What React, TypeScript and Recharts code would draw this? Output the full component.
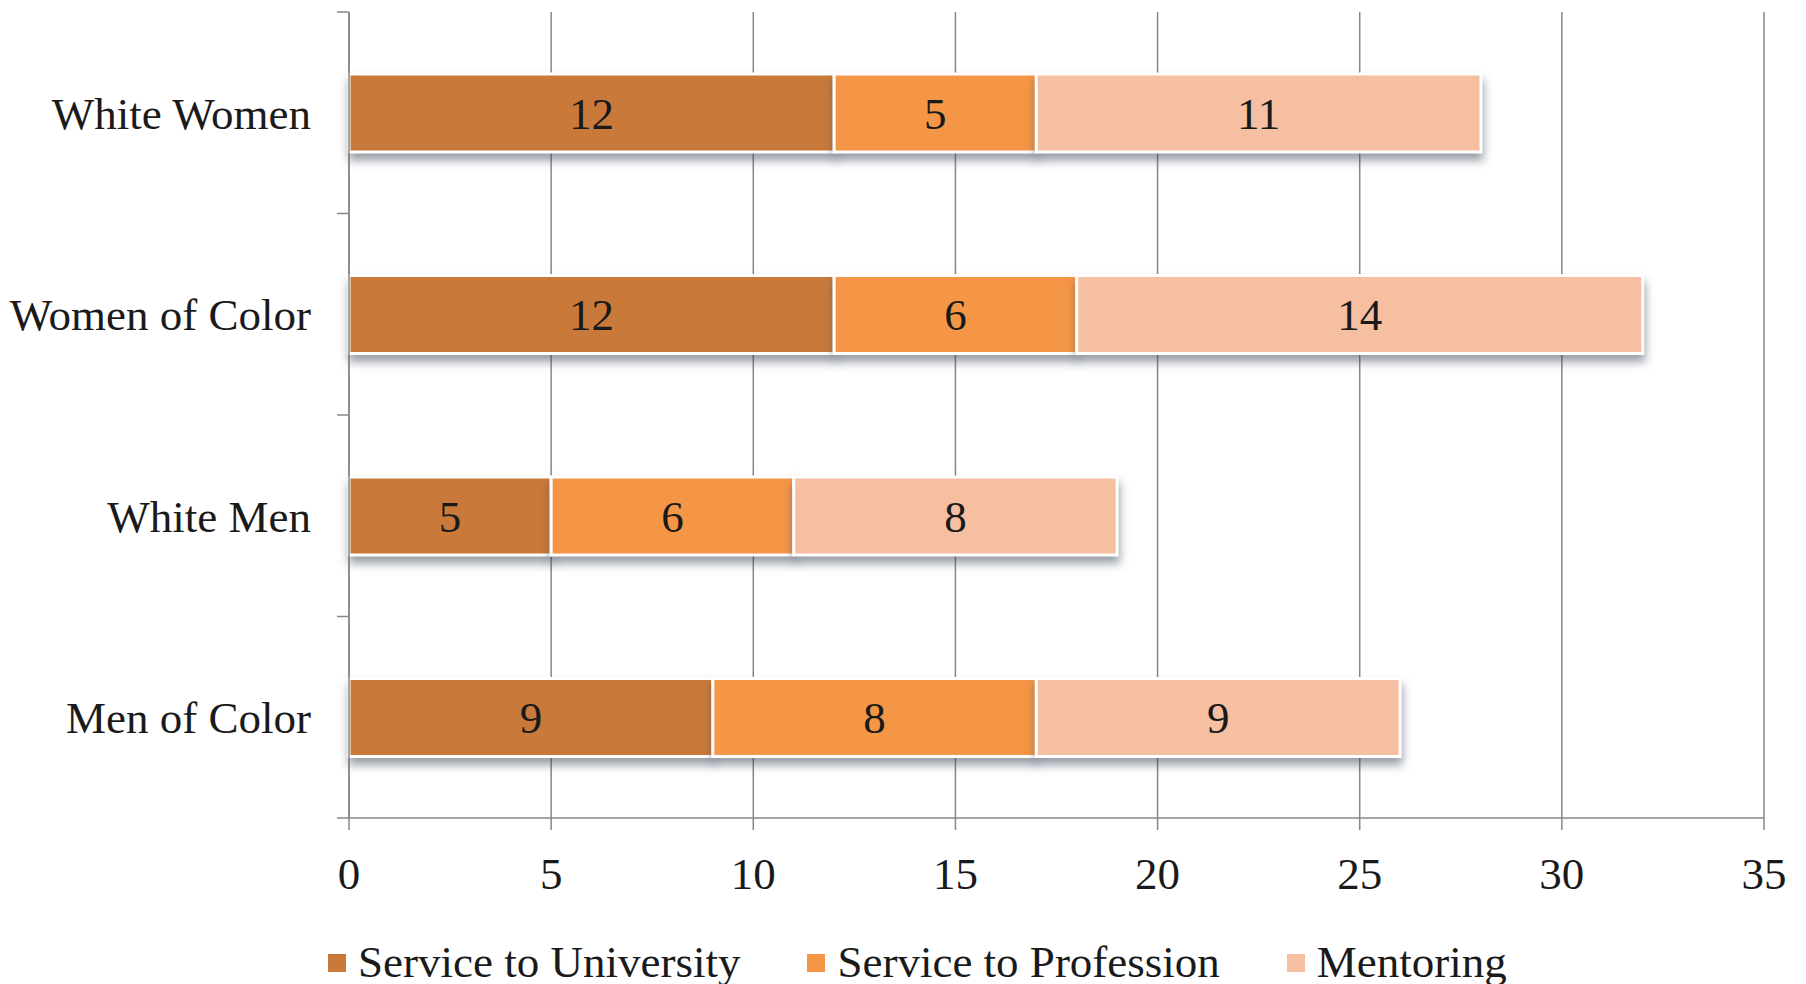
import { BarChart, Bar, XAxis, YAxis, CartesianGrid, Legend, LabelList } from 'recharts'

// values
const groups = ['White Women', 'Women of Color', 'White Men', 'Men of Color']
const serviceToUniversity = [12, 12, 5, 9]
const serviceToProfession = [5, 6, 6, 8]
const mentoring = [11, 14, 8, 9]
const xTicks = [0, 5, 10, 15, 20, 25, 30, 35]

const seriesNames = ['Service to University', 'Service to Profession', 'Mentoring']
const seriesKeys = ['university', 'profession', 'mentoring']
const seriesColors = ['#C97A3B', '#F49646', '#F7BFA2']

const data = groups.map((group, i) => ({
  group,
  university: serviceToUniversity[i],
  profession: serviceToProfession[i],
  mentoring: mentoring[i],
}))

const FONT = '"Liberation Serif", "Times New Roman", serif'
const TEXT = '#1a1a1a'
const GRID = '#878787'
const FS = 45
const W = 1806
const H = 984
const AXIS_X = 349
const PLOT_TOP = 12
const PLOT_BOTTOM = 818
const BAND = (PLOT_BOTTOM - PLOT_TOP) / groups.length

const ShadowRect = (props: any) => {
  const { x, y, width, height, fill } = props
  if (!width || width <= 0) return null
  return (
    <rect
      x={x}
      y={y}
      width={width}
      height={height}
      fill={fill}
      stroke="#ffffff"
      strokeWidth={3}
      style={{ filter: 'drop-shadow(1px 7px 5px rgba(50, 60, 80, 0.5))' }}
    />
  )
}

const GroupTick = (props: any) => {
  const { x, y, payload, index } = props
  return (
    <g>
      <line x1={AXIS_X - 12} x2={AXIS_X} y1={y - BAND / 2} y2={y - BAND / 2} stroke={GRID} strokeWidth={1.5} />
      {index === groups.length - 1 && (
        <line x1={AXIS_X - 12} x2={AXIS_X} y1={y + BAND / 2} y2={y + BAND / 2} stroke={GRID} strokeWidth={1.5} />
      )}
      <text x={x} y={y} dy="0.35em" textAnchor="end" fill={TEXT} fontSize={FS} fontFamily={FONT}>
        {payload.value}
      </text>
    </g>
  )
}

const LegendContent = () => (
  <div
    style={{
      display: 'flex',
      alignItems: 'center',
      paddingLeft: 328,
      fontFamily: FONT,
      fontSize: FS,
      lineHeight: 1,
      color: TEXT,
      whiteSpace: 'nowrap',
    }}
  >
    {seriesNames.map((name, i) => (
      <div key={name} style={{ display: 'flex', alignItems: 'center', marginRight: 67 }}>
        <span style={{ width: 18, height: 18, background: seriesColors[i], marginRight: 12, display: 'inline-block' }} />
        <span>{name}</span>
      </div>
    ))}
  </div>
)

export default function App() {
  return (
    <div style={{ position: 'absolute', left: 0, top: 0, width: W, height: H, background: '#fff' }}>
      <BarChart
        width={W}
        height={H}
        data={data}
        layout="vertical"
        margin={{ top: PLOT_TOP, right: W - 1764, left: 0, bottom: 0 }}
        barSize={78}
      >
        <CartesianGrid horizontal={false} stroke={GRID} strokeWidth={1.5} />
        <XAxis
          type="number"
          domain={[0, 35]}
          ticks={xTicks}
          interval={0}
          height={122}
          stroke={GRID}
          strokeWidth={1.5}
          tickSize={12}
          tickMargin={27}
          tick={{ fill: TEXT, fontSize: FS, fontFamily: FONT }}
        />
        <YAxis
          type="category"
          dataKey="group"
          width={AXIS_X}
          stroke={GRID}
          strokeWidth={1.5}
          tickLine={false}
          tickSize={12}
          tickMargin={26}
          tick={<GroupTick />}
        />
        <Legend
          verticalAlign="bottom"
          content={<LegendContent />}
          wrapperStyle={{ top: 940, left: 0, width: W, height: 44 }}
        />
        {seriesKeys.map((key, i) => (
          <Bar
            key={key}
            dataKey={key}
            name={seriesNames[i]}
            stackId="a"
            fill={seriesColors[i]}
            shape={<ShadowRect />}
            isAnimationActive={false}
          >
            <LabelList dataKey={key} position="center" fill={TEXT} fontSize={FS} fontFamily={FONT} />
          </Bar>
        ))}
      </BarChart>
    </div>
  )
}
